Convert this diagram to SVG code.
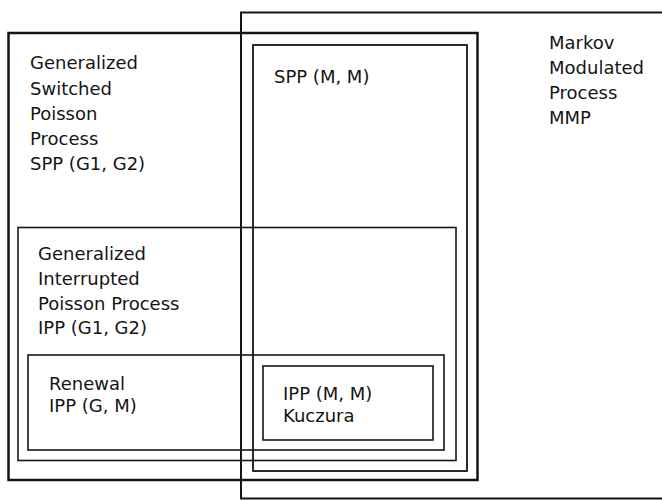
<svg xmlns="http://www.w3.org/2000/svg" width="662" height="501" viewBox="0 0 662 501">
<style>
.box{fill:none;stroke:#141414}
.t{font-family:"DejaVu Sans","Liberation Sans",sans-serif;font-size:18px;fill:#141414}
</style>
<rect width="662" height="501" fill="#fff"/>
<g id="mmp">
<rect class="box" x="241" y="12.5" width="470" height="486" stroke-width="2"/>
<text class="t" x="549" y="49">Markov</text>
<text class="t" x="549" y="74">Modulated</text>
<text class="t" x="549" y="99">Process</text>
<text class="t" x="549" y="124">MMP</text>
</g>
<g id="spp-g1g2">
<rect class="box" x="8.5" y="33" width="469" height="447" stroke-width="2.5"/>
<text class="t" x="30" y="69">Generalized</text>
<text class="t" x="30" y="95">Switched</text>
<text class="t" x="30" y="120">Poisson</text>
<text class="t" x="30" y="145">Process</text>
<text class="t" x="30" y="170">SPP (G1, G2)</text>
</g>
<g id="spp-mm">
<rect class="box" x="253" y="45" width="214" height="426" stroke-width="1.8"/>
<text class="t" x="274" y="83">SPP (M, M)</text>
</g>
<g id="ipp-g1g2">
<rect class="box" x="18" y="227.5" width="438" height="233" stroke-width="1.6"/>
<text class="t" x="38" y="260">Generalized</text>
<text class="t" x="38" y="285">Interrupted</text>
<text class="t" x="38" y="310">Poisson Process</text>
<text class="t" x="38" y="334">IPP (G1, G2)</text>
</g>
<g id="renewal">
<rect class="box" x="28" y="355" width="416" height="95" stroke-width="1.6"/>
<text class="t" x="49" y="390">Renewal</text>
<text class="t" x="49" y="412">IPP (G, M)</text>
</g>
<g id="ipp-mm">
<rect class="box" x="263" y="366" width="170" height="74" stroke-width="1.6"/>
<text class="t" x="283" y="400">IPP (M, M)</text>
<text class="t" x="283" y="422">Kuczura</text>
</g>
<g id="connectors"/>
</svg>
